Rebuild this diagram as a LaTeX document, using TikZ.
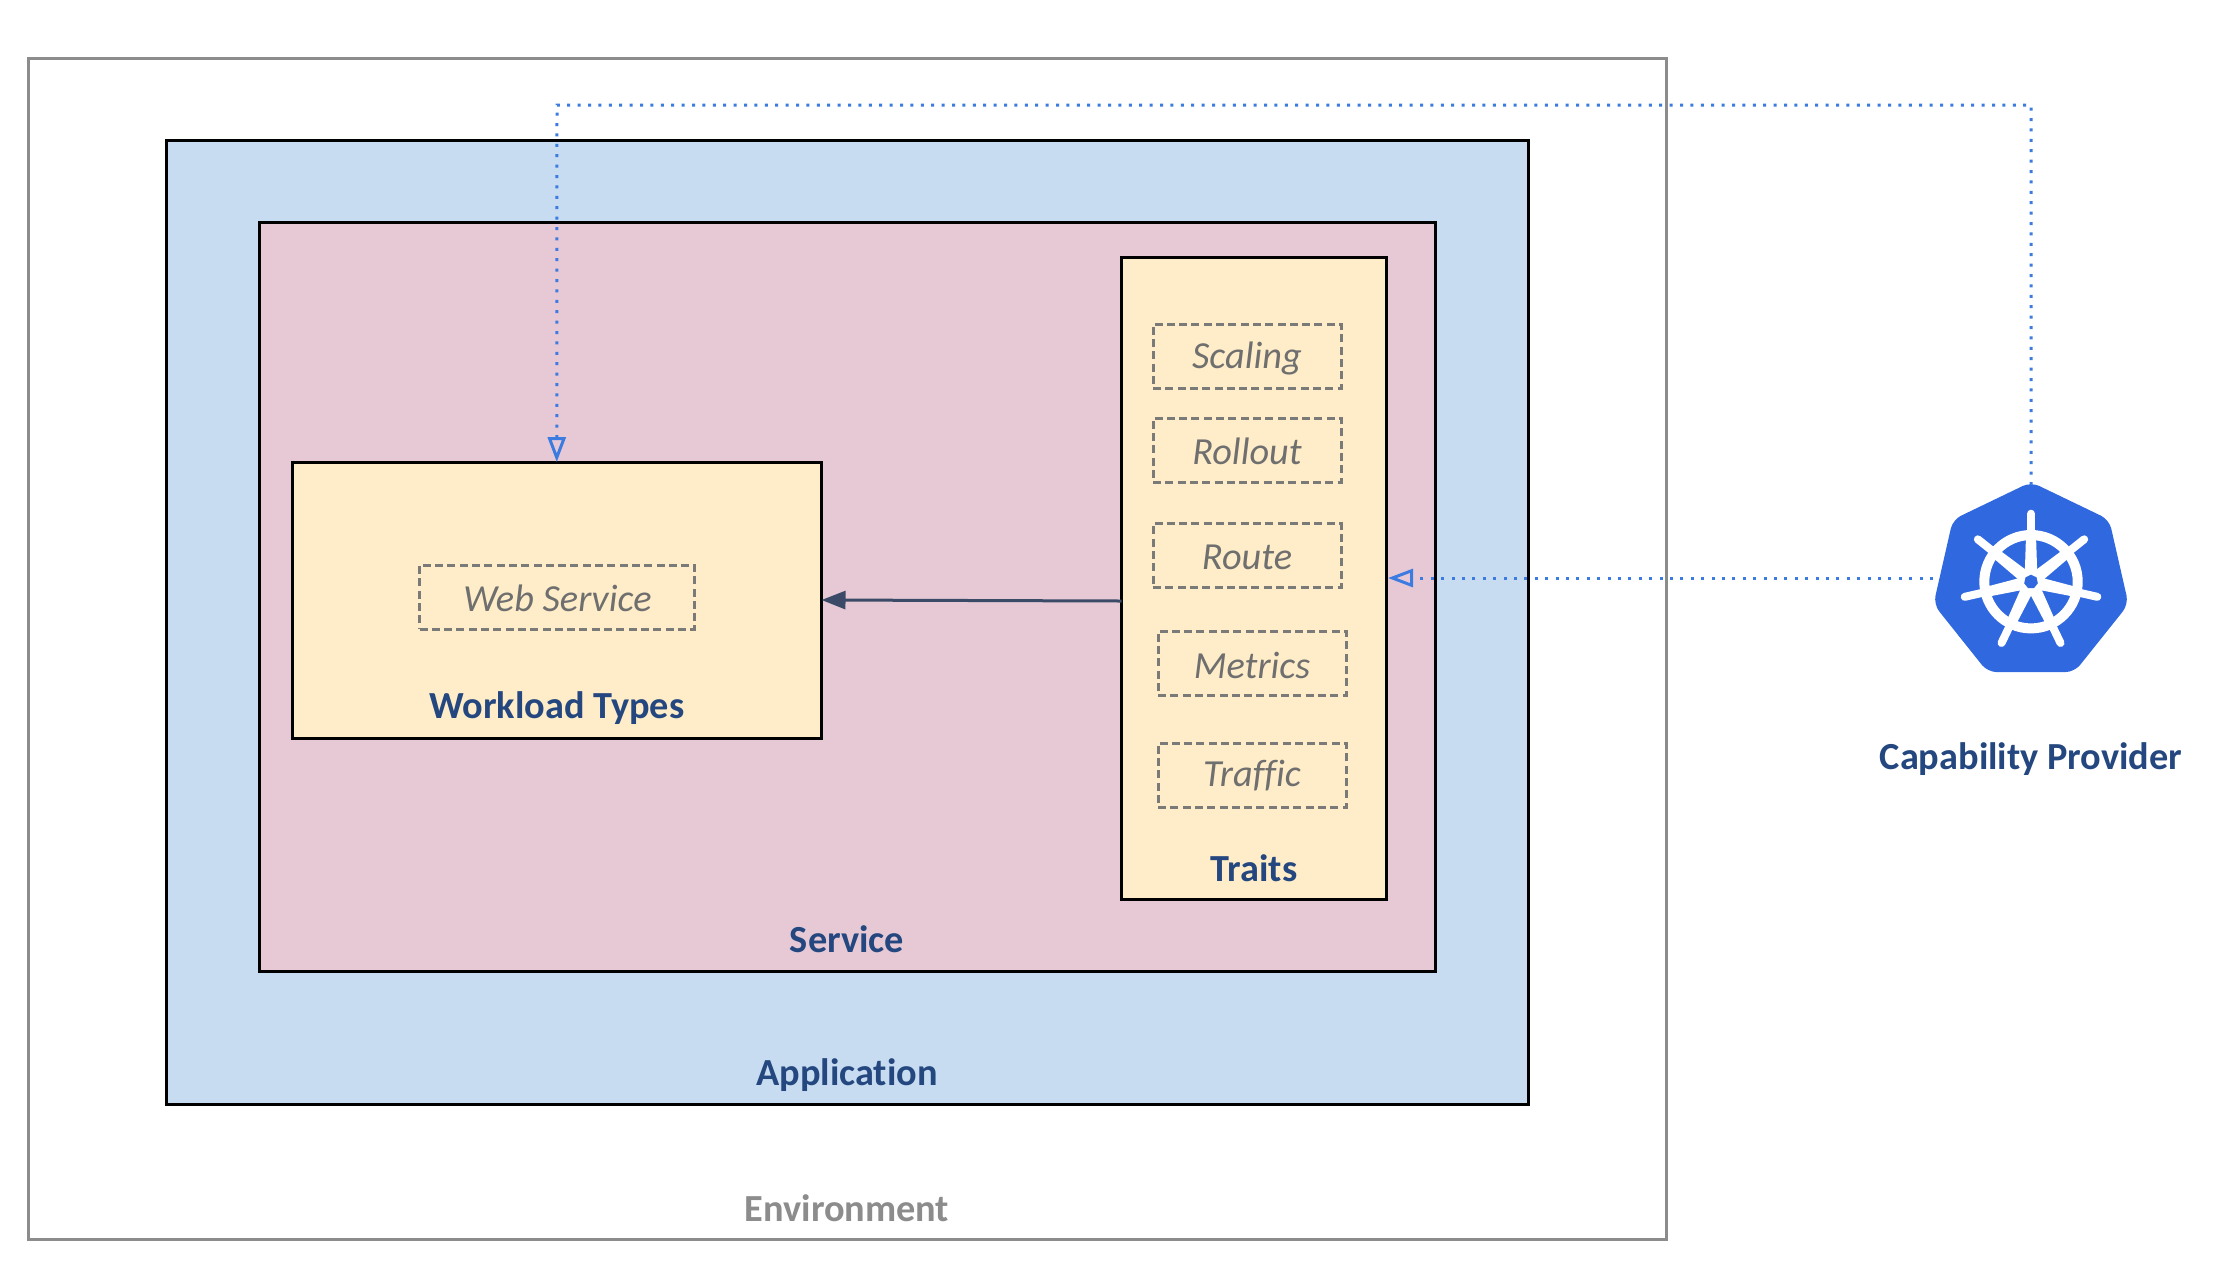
\documentclass[tikz,border=0pt]{standalone}
\usepackage{fontspec}
\setmainfont[Ligatures=NoCommon]{Carlito}
\usetikzlibrary{arrows.meta,fit,shapes.geometric}
\definecolor{appblue}{HTML}{C7DCF0}
\definecolor{svcpink}{HTML}{E6C9D5}
\definecolor{cream}{HTML}{FEEDC8}
\definecolor{titleblue}{HTML}{24477F}
\definecolor{dashgrey}{HTML}{7A7A78}
\definecolor{italicgrey}{HTML}{6F6F6F}
\definecolor{envgrey}{HTML}{8C8C8C}
\definecolor{linkblue}{HTML}{3C7BE0}
\definecolor{darkarrow}{HTML}{3B4A66}
\definecolor{kubeblue}{HTML}{3068E0}
\tikzset{
  box/.style={draw=black,line width=3pt,inner sep=0pt,outer sep=0pt},
  dashbox/.style={draw=dashgrey,line width=3pt,inner sep=0pt,outer sep=0pt,dash pattern=on 8pt off 4.3pt},
  dashtext/.style={font=\fontsize{38.3}{42}\selectfont\itshape,text=italicgrey,inner sep=0pt},
  title/.style={font=\fontsize{38.3}{42}\selectfont\bfseries,text=titleblue,inner sep=0pt},
  dotlink/.style={draw=linkblue,line width=3pt,dash pattern=on 3pt off 7.4pt,-{Triangle[open,length=25pt,width=18pt,line width=3pt]}},
  solidlink/.style={draw=darkarrow,line width=3pt,-{Triangle[length=24pt,width=18pt]}},
  spoke/.style={fill=white,draw=none},
  handle/.style={draw=white,line width=8pt,line cap=round}
}
\begin{document}
\begin{tikzpicture}[x=1pt,y=-1pt]
\useasboundingbox (0,0) rectangle (2224,1278);
\node[box,draw=envgrey,fill=white,fit={(28,58.5)(1666,1239.5)}] (env) {};
\node[box,fill=appblue,fit={(166,140)(1528.5,1104.5)}] (app) {};
\node[box,fill=svcpink,fit={(259.5,222.5)(1435,971)}] (svc) {};
\node[box,fill=cream,fit={(1121.5,257)(1386.5,899)}] (traits) {};
\node[box,fill=cream,fit={(292,462)(821.5,738)}] (workload) {};

\node[dashbox,minimum width=275pt,minimum height=64pt] (web) at (557,597) {};
\node[dashbox,minimum width=188pt,minimum height=64pt] (scaling) at (1247,356) {};
\node[dashbox,minimum width=188pt,minimum height=64pt] (rollout) at (1247,450) {};
\node[dashbox,minimum width=188pt,minimum height=64pt] (route) at (1247,555.5) {};
\node[dashbox,minimum width=188pt,minimum height=64pt] (metrics) at (1252,663) {};
\node[dashbox,minimum width=188pt,minimum height=64pt] (traffic) at (1252,775) {};
\node[dashtext] (tweb) at (557.5,598) {Web Service};
\node[dashtext] (tscaling) at (1247,358) {Scaling};
\node[dashtext] (trollout) at (1247,451) {Rollout};
\node[dashtext] (troute) at (1247,557) {Route};
\node[dashtext] (tmetrics) at (1252,665) {Metrics};
\node[dashtext] (ttraffic) at (1252,776) {Traffic};

\node[title] (tworkload) at (557,708) {Workload Types};
\node[title] (ttraits) at (1254,868) {Traits};
\node[title] (tservice) at (847,939) {Service};
\node[title] (tapp) at (847,1075) {Application};
\node[title,text=envgrey] (tenv) at (847,1208) {Environment};
\node[title] (tcap) at (2031,759) {Capability Provider};

% Kubernetes logo
\node[regular polygon,regular polygon sides=7,minimum size=200pt,inner sep=0pt,outer sep=0pt,
      fill=kubeblue,rounded corners=9pt] (kube) at (2031,582) {};
\begin{scope}[shift={(2031,581.7)}]
  \draw[draw=white,line width=10pt] (0,0) circle (46.7pt);
  \foreach \a in {90,141.43,192.86,244.29,295.71,347.14,398.57} {
    \begin{scope}[rotate=\a]
      \fill[spoke] (0,-6.5) -- (46,-5) -- (46,5) -- (0,6.5) -- cycle;
      \draw[handle] (48,0) -- (68,0);
    \end{scope}
  }
  \fill[white] (0,0) circle (13.5pt);
  \node[regular polygon,regular polygon sides=7,minimum size=14pt,inner sep=0pt,fill=kubeblue] (hub) at (0,0) {};
\end{scope}
\coordinate (kubetop) at (2031,485);
\coordinate (kubeleft) at (1933,578);
\coordinate (traitsin) at (1388,578);
\coordinate (corner1) at (2031,105);
\coordinate (corner2) at (557,105);

\draw[dotlink] (kubetop) -- (corner1) -- (corner2) -- (workload.north);
\draw[dotlink] (kubeleft) -- (traitsin);
\draw[solidlink] (traits.west |- 0,601) -- (821.5,600);
\end{tikzpicture}
\end{document}
